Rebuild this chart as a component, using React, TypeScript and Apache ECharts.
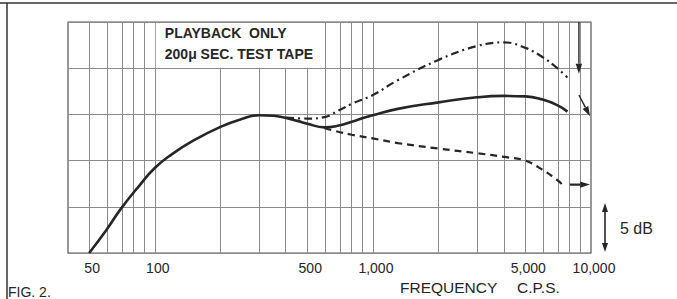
import React, { useEffect, useRef } from "react";
import * as echarts from "echarts";

// Frequency grid (Hz) — vertical rules of the log chart paper
const gridFreqs = [50, 60, 70, 80, 90, 100, 200, 300, 400, 500, 600, 700, 800, 900, 1000, 2000, 3000, 4000, 5000, 6000, 7000, 8000, 9000];
const tickFreqs = [50, 100, 500, 1000, 5000, 10000];
const tickLabels = ["50", "100", "500", "1,000", "5,000", "10,000"];

// Solid curve (playback response)
const solidFreq = [50, 60, 70, 85, 100, 120, 150, 200, 250, 300, 350, 400, 450, 500, 600, 700, 800, 900, 1000, 1300, 2000, 3000, 4000, 5000, 6000, 7000, 7800];
const solidDb = [-15, -12.5, -10.2, -7.7, -5.8, -4.3, -2.85, -1.35, -0.5, -0.1, -0.15, -0.4, -0.7, -1.0, -1.4, -1.2, -0.8, -0.4, -0.1, 0.6, 1.3, 1.85, 2.0, 1.95, 1.6, 1.0, 0.3];

// Dash-dot curve (upper)
const upperFreq = [400, 500, 600, 700, 800, 1000, 1300, 2000, 3000, 4000, 5000, 6000, 7000, 7800];
const upperDb = [-0.35, -0.45, -0.3, 0.45, 1.15, 2.1, 3.7, 5.9, 7.4, 7.8, 7.2, 6.2, 5.0, 4.0];

// Dashed curve (lower)
const lowerFreq = [600, 700, 800, 1000, 1300, 2000, 3000, 4000, 5000, 6000, 7000, 7400];
const lowerDb = [-1.5, -1.9, -2.2, -2.6, -3.1, -3.7, -4.2, -4.6, -5.0, -6.0, -7.1, -7.6];

const X_MIN_HZ = 40;
const X_MAX_HZ = 10000;
const Y_MIN = -15;
const Y_MAX = 10;
const Y_STEP = 5;

const lg = (f: number) => Math.log10(f);
const toPairs = (fs: number[], ds: number[]) => fs.map((f, i) => [lg(f), ds[i]]);

const INK = "#262626";
const FONT = "Liberation Sans, Arial, sans-serif";

export default function App() {
  const ref = useRef<HTMLDivElement>(null);

  useEffect(() => {
    if (!ref.current) return;
    const chart = echarts.init(ref.current, undefined, { renderer: "svg" });

    chart.setOption({
      animation: false,
      backgroundColor: "#ffffff",
      grid: {
        left: 68,
        right: 86,
        top: 22,
        bottom: 46,
        show: true,
        borderColor: "#555",
        borderWidth: 1.2,
        backgroundColor: "transparent",
      },
      xAxis: {
        type: "value",
        min: lg(X_MIN_HZ),
        max: lg(X_MAX_HZ),
        axisLine: { show: false },
        axisTick: { show: false },
        splitLine: { show: false },
        axisLabel: {
          customValues: tickFreqs.map(lg),
          formatter: (v: number) => {
            const i = tickFreqs.findIndex((f) => Math.abs(lg(f) - v) < 1e-6);
            return i >= 0 ? tickLabels[i] : "";
          },
          fontSize: 14,
          color: INK,
          fontFamily: FONT,
          margin: 8,
          padding: [0, 0, 0, 6],
          showMinLabel: true,
          showMaxLabel: true,
        },
      },
      yAxis: {
        type: "value",
        min: Y_MIN,
        max: Y_MAX,
        interval: Y_STEP,
        axisLine: { show: false },
        axisTick: { show: false },
        axisLabel: { show: false },
        splitLine: { show: true, lineStyle: { color: "#8c8c8c", width: 1 } },
      },
      series: [
        {
          type: "line",
          z: 1,
          silent: true,
          data: [[lg(X_MIN_HZ), Y_MIN]],
          showSymbol: false,
          lineStyle: { opacity: 0 },
          markLine: {
            silent: true,
            symbol: ["none", "none"],
            label: { show: false },
            lineStyle: { type: "solid", color: "#8c8c8c", width: 1 },
            data: gridFreqs.map((f) => ({ xAxis: lg(f) })),
          },
        },
        {
          type: "line",
          z: 5,
          data: toPairs(solidFreq, solidDb),
          smooth: 0.5,
          showSymbol: false,
          lineStyle: { color: INK, width: 2.6 },
        },
        {
          type: "line",
          z: 5,
          data: toPairs(upperFreq, upperDb),
          smooth: 0.4,
          showSymbol: false,
          lineStyle: { color: INK, width: 2.2, type: [8, 4, 2, 4] },
        },
        {
          type: "line",
          z: 5,
          data: toPairs(lowerFreq, lowerDb),
          smooth: 0.4,
          showSymbol: false,
          lineStyle: { color: INK, width: 2.2, type: [7, 5] },
        },
      ],
    });

    const px = (f: number, db: number) => chart.convertToPixel({ gridIndex: 0 }, [lg(f), db]) as number[];

    const arrow = (p1: number[], p2: number[], head = 9, half = 3.2, width = 1.6) => {
      const dx = p2[0] - p1[0];
      const dy = p2[1] - p1[1];
      const len = Math.hypot(dx, dy) || 1;
      const ux = dx / len;
      const uy = dy / len;
      const bx = p2[0] - ux * head;
      const by = p2[1] - uy * head;
      return [
        { type: "line", z: 120, shape: { x1: p1[0], y1: p1[1], x2: bx, y2: by }, style: { stroke: INK, lineWidth: width } },
        {
          type: "polygon",
          z: 120,
          shape: { points: [[p2[0], p2[1]], [bx - uy * half, by + ux * half], [bx + uy * half, by - ux * half]] },
          style: { fill: INK },
        },
      ];
    };

    const boxTL = px(100, 10);
    const boxBR = px(600, 5);
    const rightEdge = px(10000, 0)[0];
    const scaleTop = px(10000, -9.6);
    const scaleBot = px(10000, -14.9);
    const scaleMid = px(10000, -12.4);

    const graphics: any[] = [
      // figure frame
      { type: "line", z: 120, shape: { x1: 0, y1: 3, x2: 677, y2: 3 }, style: { stroke: "#333", lineWidth: 1.5 } },
      { type: "line", z: 120, shape: { x1: 7, y1: 3, x2: 7, y2: 299 }, style: { stroke: "#333", lineWidth: 1.5 } },
      // title box
      {
        type: "rect",
        z: 100,
        shape: { x: boxTL[0] + 1, y: boxTL[1] + 1, width: boxBR[0] - boxTL[0] - 2, height: boxBR[1] - boxTL[1] - 1.5 },
        style: { fill: "#ffffff" },
      },
      {
        type: "text",
        z: 110,
        x: boxTL[0] + 10,
        y: 33,
        style: { text: "PLAYBACK  ONLY", fill: INK, font: `bold 14px ${FONT}`, verticalAlign: "middle" },
      },
      {
        type: "text",
        z: 110,
        x: boxTL[0] + 10,
        y: 54,
        style: { text: "200μ SEC. TEST TAPE", fill: INK, font: `bold 14px ${FONT}`, verticalAlign: "middle" },
      },
      // axis title
      {
        type: "text",
        z: 110,
        x: 400,
        y: 287,
        style: { text: "FREQUENCY", fill: INK, font: `15.5px ${FONT}`, verticalAlign: "middle" },
      },
      {
        type: "text",
        z: 110,
        x: 517,
        y: 287,
        style: { text: "C.P.S.", fill: INK, font: `15.5px ${FONT}`, verticalAlign: "middle" },
      },
      // figure label
      {
        type: "text",
        z: 110,
        x: 8,
        y: 292,
        style: { text: "FIG. 2.", fill: INK, font: `14px ${FONT}`, verticalAlign: "middle" },
      },
      // 5 dB scale
      {
        type: "text",
        z: 110,
        x: rightEdge + 29,
        y: scaleMid[1],
        style: { text: "5 dB", fill: INK, font: `16px ${FONT}`, verticalAlign: "middle" },
      },
      ...arrow([rightEdge + 14, scaleMid[1]], [rightEdge + 14, scaleTop[1]], 9, 3, 1.6),
      ...arrow([rightEdge + 14, scaleMid[1]], [rightEdge + 14, scaleBot[1]], 9, 3, 1.6),
      // control arrows at right end of curves
      ...arrow(px(8800, 10), px(8800, 4.4), 10, 3.2, 1.4),
      ...arrow(px(8800, 2.1), px(9900, -0.2), 10, 3.2, 1.4),
      ...arrow(px(8000, -7.6), px(9900, -7.6), 10, 3.2, 2.2),
    ];

    chart.setOption({ graphic: graphics });

    return () => chart.dispose();
  }, []);

  return (
    <div
      ref={ref}
      style={{ position: "absolute", left: 0, top: 0, width: 677, height: 299, background: "#fff" }}
    />
  );
}
